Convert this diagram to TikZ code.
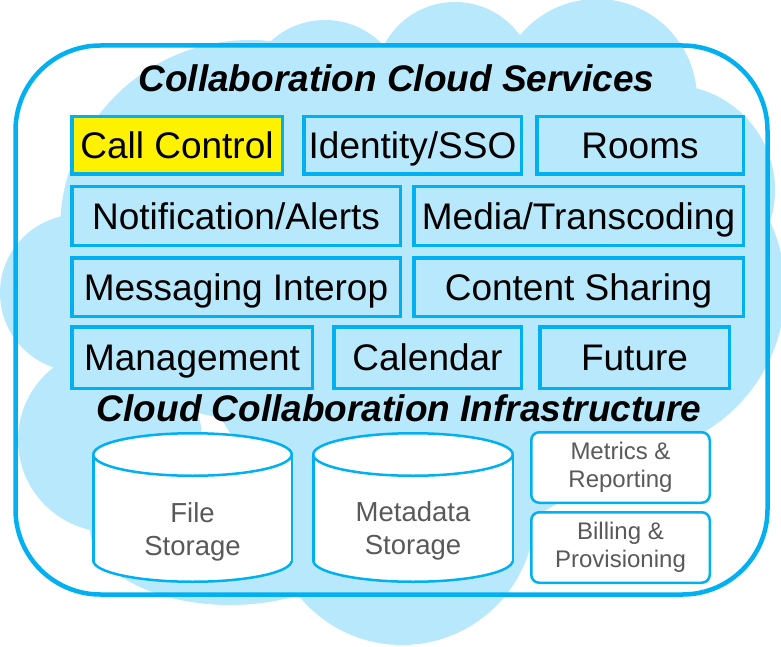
\documentclass[tikz,border=0pt]{standalone}
\usepackage{fontspec}
\setmainfont{Liberation Sans}
\definecolor{edgecyan}{RGB}{0,176,240}
\definecolor{cloudblue}{RGB}{184,232,252}
\definecolor{greytext}{RGB}{89,89,89}
\begin{document}
\begin{tikzpicture}[x=1pt,y=-1pt,
  svc/.style={draw=edgecyan, line width=3.5pt, fill=cloudblue, inner sep=0pt,
    text height=26.5pt, text depth=0pt, font=\fontsize{37}{40}\selectfont},
  heading/.style={inner sep=0pt, text height=26.5pt, text depth=0pt,
    font=\fontsize{37}{40}\selectfont\bfseries\itshape},
  infra/.style={draw=edgecyan, line width=2.5pt, fill=white, rounded corners=8pt,
    inner sep=0pt, minimum width=178.5pt, minimum height=70.5pt, align=center,
    text=greytext, font=\fontsize{24}{28}\selectfont},
  cyl/.style={draw=edgecyan, line width=2.5pt, fill=white},
  cyltext/.style={inner sep=0pt, align=center, text=greytext, font=\fontsize{27.5}{33}\selectfont}
]
\useasboundingbox (0,0) rectangle (781,647);
% cloud
\fill[cloudblue] (325,100) circle[radius=80] (455,82) circle[radius=80]
  (597,99) circle[radius=100] (670,190) circle[radius=105]
  (620,290) circle[radius=165] (250,230) circle[radius=190]
  (78.5,293) circle[radius=78.5] (110,440) circle[radius=92]
  (230,528) ellipse[x radius=140, y radius=77] (402,512) circle[radius=133]
  (430,300) circle[radius=240];
% frame
\draw[edgecyan, line width=4.5pt, rounded corners=85pt] (15.5,45.5) rectangle (767.5,594.5);
% titles
\node[heading] (services) at (396.5,78.3) {Collaboration Cloud Services};
\node[heading] (infrastructure) at (399,408.5) {Cloud Collaboration Infrastructure};
% service boxes
\node[svc, fill=yellow, minimum width=210.5pt, minimum height=57.5pt] (call) at (177,145.5) {Call Control};
\node[svc, minimum width=217.5pt, minimum height=57.5pt] (identity) at (412.5,145.5) {Identity/SSO};
\node[svc, minimum width=206.5pt, minimum height=57.5pt] (rooms) at (640,145.5) {Rooms};
\node[svc, minimum width=328.5pt, minimum height=58.5pt] (notif) at (236,216) {Notification/Alerts};
\node[svc, minimum width=329.5pt, minimum height=58.5pt] (media) at (578.5,216) {Media/Transcoding};
\node[svc, minimum width=328.5pt, minimum height=58.5pt] (messaging) at (236,287) {Messaging Interop};
\node[svc, minimum width=329.5pt, minimum height=58.5pt] (content) at (578.5,287) {Content Sharing};
\node[svc, minimum width=240.5pt, minimum height=61.5pt] (mgmt) at (192,357.5) {Management};
\node[svc, minimum width=187.5pt, minimum height=61.5pt] (calendar) at (427.5,357.5) {Calendar};
\node[svc, minimum width=189.5pt, minimum height=61.5pt] (future) at (634.5,357.5) {Future};
% file storage cylinder
\draw[cyl] (192.5,560.5) ellipse[x radius=99.25, y radius=21.25];
\fill[white] (93.25,454.5) rectangle (291.75,560.5);
\draw[edgecyan, line width=2.5pt] (93.25,454.5) -- (93.25,560.5) (291.75,454.5) -- (291.75,560.5);
\draw[cyl] (192.5,454.5) ellipse[x radius=99.25, y radius=21.25];
\node[cyltext] (file) at (192.5,531.5) {File\\Storage};
% metadata storage cylinder
\draw[cyl] (413,560.5) ellipse[x radius=99.75, y radius=21.25];
\fill[white] (313.25,454.5) rectangle (512.75,560.5);
\draw[edgecyan, line width=2.5pt] (313.25,454.5) -- (313.25,560.5) (512.75,454.5) -- (512.75,560.5);
\draw[cyl] (413,454.5) ellipse[x radius=99.75, y radius=21.25];
\node[cyltext] (meta) at (413,531) {Metadata\\Storage};
% infra boxes
\node[infra] (metrics) at (620.5,467.5) {Metrics \&\\Reporting};
\node[infra] (billing) at (620.5,547.5) {Billing \&\\Provisioning};
\end{tikzpicture}
\end{document}
